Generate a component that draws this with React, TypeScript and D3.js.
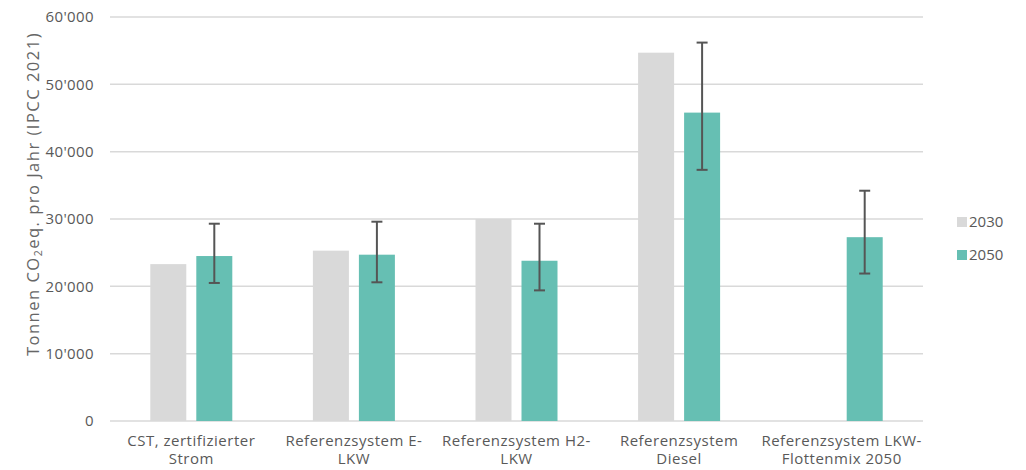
import React from "react";
import * as d3 from "d3";

const categories = [
  ["CST, zertifizierter", "Strom"],
  ["Referenzsystem E-", "LKW"],
  ["Referenzsystem H2-", "LKW"],
  ["Referenzsystem", "Diesel"],
  ["Referenzsystem LKW-", "Flottenmix 2050"],
];
const values2030: (number | null)[] = [23300, 25300, 30000, 54700, null];
const values2050 = [24500, 24700, 23800, 45800, 27300];
const err2050Low = [20500, 20600, 19400, 37300, 21900];
const err2050High = [29300, 29600, 29300, 56200, 34200];
const yTicks = [0, 10000, 20000, 30000, 40000, 50000, 60000];
const seriesNames = ["2030", "2050"];
const colors = ["#d9d9d9", "#66bfb3"];

const W = 1026;
const H = 470;
const left = 110;
const right = 923;
const top = 17;
const bottom = 421;

const fmt = (v: number) => (v === 0 ? "0" : d3.format(",")(v).replace(/,/g, "'"));

export default function App() {
  const x = d3.scaleBand<number>().domain(d3.range(categories.length)).range([left, right]).padding(0);
  const y = d3.scaleLinear().domain([0, 60000]).range([bottom, top]);
  const barW = 36;
  const gap = 10;
  const textColor = "#595959";
  const font = "'Open Sans', sans-serif";
  return (
    <svg width={W} height={H} style={{ position: "absolute", left: 0, top: 0, background: "#fff" }} fontFamily={font}>
      {yTicks.map((t) => (
        <g key={t}>
          <line x1={left} x2={right} y1={y(t)} y2={y(t)} stroke="#d9d9d9" strokeWidth={1.5} />
          <text x={94} y={y(t)} dy="0.35em" textAnchor="end" fontSize={15} letterSpacing={0.4} fill={textColor}>
            {fmt(t)}
          </text>
        </g>
      ))}
      {categories.map((c, i) => {
        const cx = (x(i) as number) + x.bandwidth() / 2;
        const x0 = cx - gap / 2 - barW;
        const x1 = cx + gap / 2;
        const v0 = values2030[i];
        const v1 = values2050[i];
        const ex = x1 + barW / 2;
        return (
          <g key={i}>
            {v0 != null && (
              <rect x={x0} y={y(v0)} width={barW} height={y(0) - y(v0)} fill={colors[0]} />
            )}
            <rect x={x1} y={y(v1)} width={barW} height={y(0) - y(v1)} fill={colors[1]} />
            <line x1={ex} x2={ex} y1={y(err2050Low[i])} y2={y(err2050High[i])} stroke="#555" strokeWidth={2} />
            <line x1={ex - 5.5} x2={ex + 5.5} y1={y(err2050Low[i])} y2={y(err2050Low[i])} stroke="#555" strokeWidth={2} />
            <line x1={ex - 5.5} x2={ex + 5.5} y1={y(err2050High[i])} y2={y(err2050High[i])} stroke="#555" strokeWidth={2} />
            <text x={cx} y={446} textAnchor="middle" fontSize={15} letterSpacing={0.5} fill={textColor}>
              <tspan x={cx}>{c[0]}</tspan>
              <tspan x={cx} dy={18}>{c[1]}</tspan>
            </text>
          </g>
        );
      })}
      <text
        transform={`translate(39, 194) rotate(-90)`}
        textAnchor="middle"
        fontSize={16.5}
        letterSpacing={1.5}
        fill="#666"
      >
        Tonnen CO<tspan fontSize={10.5} dy={3}>2</tspan>
        <tspan dy={-3}>eq. pro Jahr (IPCC 2021)</tspan>
      </text>
      {seriesNames.map((s, i) => (
        <g key={s}>
          <rect x={957} y={217 + i * 33} width={10} height={10} fill={colors[i]} />
          <text x={969} y={222 + i * 33} dy="0.35em" fontSize={15} fill={textColor}>
            {s}
          </text>
        </g>
      ))}
    </svg>
  );
}
